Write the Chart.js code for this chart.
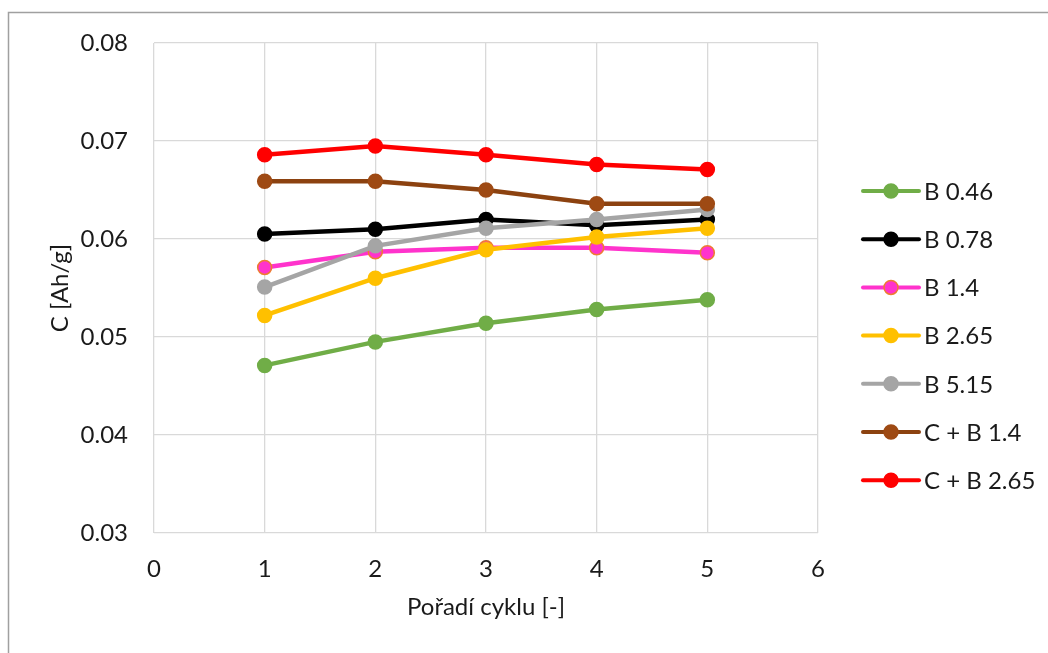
<!DOCTYPE html>
<html>
<head>
<meta charset="utf-8">
<script src="https://cdn.jsdelivr.net/npm/chart.js@4/dist/chart.umd.min.js"></script>
<style>
  html, body { margin: 0; padding: 0; background: #fff; }
  #wrap { width: 1048px; height: 653px; }
</style>
</head>
<body>
<div id="wrap"><canvas id="chart" width="1048" height="653"></canvas></div>
<script>
// cycle order (x)
const cycles = [1, 2, 3, 4, 5];

// capacity per series, Ah/g
const b046 = [0.0471, 0.0495, 0.0514, 0.0528, 0.0538];
const b078 = [0.0605, 0.0610, 0.0620, 0.0614, 0.0620];
const b14 = [0.0571, 0.0587, 0.0591, 0.0591, 0.0586];
const b265 = [0.0522, 0.0560, 0.0589, 0.0602, 0.0611];
const b515 = [0.0551, 0.0593, 0.0611, 0.0620, 0.0630];
const cb14 = [0.0659, 0.0659, 0.0650, 0.0636, 0.0636];
const cb265 = [0.0686, 0.0695, 0.0686, 0.0676, 0.0671];

const seriesNames = ['B 0.46', 'B 0.78', 'B 1.4', 'B 2.65', 'B 5.15', 'C + B 1.4', 'C + B 2.65'];
const seriesValues = [b046, b078, b14, b265, b515, cb14, cb265];
const lineColors = ['#70ad47', '#000000', '#ff33cc', '#ffc000', '#a5a5a5', '#8c4210', '#ff0000'];
const pointColors = ['#70ad47', '#000000', '#ff33cc', '#ffc000', '#a5a5a5', '#9e4a14', '#ff0000'];
const pointBorders = ['#70ad47', '#000000', '#ed7d31', '#ffc000', '#a5a5a5', '#9e4a14', '#ff0000'];

const xMin = 0, xMax = 6, xStep = 1;
const yMin = 0.03, yMax = 0.08, yStep = 0.01;

const FONT = 'Lato, "Open Sans", sans-serif';
const TEXT = '#1a1a1a';

const datasets = seriesNames.map((name, i) => ({
  label: name,
  data: cycles.map((c, j) => ({ x: c, y: seriesValues[i][j] })),
  borderColor: lineColors[i],
  backgroundColor: pointColors[i],
  pointBackgroundColor: pointColors[i],
  pointBorderColor: pointBorders[i],
  pointBorderWidth: 1.5,
  pointRadius: 7,
  pointHoverRadius: 7,
  borderWidth: 4.5,
  tension: 0,
  order: seriesNames.length - i
}));

// outer frame (only left and top edges are visible in the picture)
const framePlugin = {
  id: 'frame',
  beforeDraw(chart) {
    const ctx = chart.ctx;
    ctx.save();
    ctx.strokeStyle = '#a0a0a0';
    ctx.lineWidth = 1.5;
    ctx.beginPath();
    ctx.moveTo(8.5, chart.height + 2);
    ctx.lineTo(8.5, 12.5);
    ctx.lineTo(chart.width + 2, 12.5);
    ctx.stroke();
    ctx.restore();
  }
};

// Excel style legend: line with marker, then label
const lineLegend = {
  id: 'lineLegend',
  afterDraw(chart) {
    const ctx = chart.ctx;
    const x0 = 863, x1 = 919, mx = 891, tx = 924;
    const top = 191, gap = 48.2;
    ctx.save();
    chart.data.datasets.forEach((ds, i) => {
      const y = top + i * gap;
      ctx.strokeStyle = ds.borderColor;
      ctx.lineWidth = 4;
      ctx.lineCap = 'round';
      ctx.beginPath();
      ctx.moveTo(x0, y);
      ctx.lineTo(x1, y);
      ctx.stroke();
      ctx.fillStyle = ds.pointBackgroundColor;
      ctx.strokeStyle = ds.pointBorderColor;
      ctx.lineWidth = 1.5;
      ctx.beginPath();
      ctx.arc(mx, y, 7, 0, Math.PI * 2);
      ctx.fill();
      ctx.stroke();
      ctx.fillStyle = TEXT;
      ctx.font = '24px ' + FONT;
      ctx.textBaseline = 'middle';
      ctx.textAlign = 'left';
      ctx.fillText(ds.label, tx, y + 1);
    });
    ctx.restore();
  }
};

new Chart(document.getElementById('chart'), {
  type: 'line',
  data: { datasets },
  options: {
    responsive: false,
    animation: false,
    layout: { padding: { top: 43, right: 230, bottom: 0, left: 0 } },
    plugins: {
      legend: { display: false },
      tooltip: { enabled: false }
    },
    scales: {
      x: {
        type: 'linear',
        min: xMin,
        max: xMax,
        afterFit(scale) { scale.height = 120; },
        ticks: { stepSize: xStep, padding: 22, color: TEXT, font: { family: FONT, size: 24 } },
        grid: { color: '#d9d9d9', lineWidth: 1.3, drawTicks: false },
        border: { display: false },
        title: {
          display: true,
          text: 'Pořadí cyklu [-]',
          color: TEXT,
          font: { family: FONT, size: 24 },
          padding: { top: 0, bottom: 31 }
        }
      },
      y: {
        min: yMin,
        max: yMax,
        afterFit(scale) { scale.width = 154; },
        ticks: {
          stepSize: yStep,
          padding: 26,
          color: TEXT,
          font: { family: FONT, size: 24 },
          callback: v => v.toFixed(2)
        },
        grid: { color: '#d9d9d9', lineWidth: 1.3, drawTicks: false },
        border: { display: false },
        title: {
          display: true,
          text: 'C [Ah/g]',
          color: TEXT,
          font: { family: FONT, size: 24 },
          padding: { top: 46, bottom: 0 }
        }
      }
    }
  },
  plugins: [framePlugin, lineLegend]
});
</script>
</body>
</html>
